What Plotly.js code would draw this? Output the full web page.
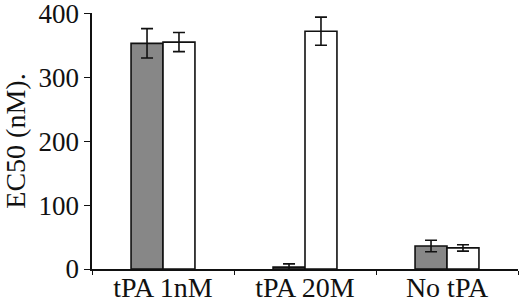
<!DOCTYPE html>
<html>
<head>
<meta charset="utf-8">
<script src="https://cdn.plot.ly/plotly-3.0.1.min.js"></script>
<style>html,body{margin:0;padding:0;background:#fff;}#chart{width:520px;height:304px;}</style>
</head>
<body>
<div id="chart"></div>
<script>
var categories = ["tPA 1nM", "tPA 20M", "No tPA"];
var grayValues = [353, 3, 36];
var grayErrors = [23, 5, 9];
var whiteValues = [355, 372, 33];
var whiteErrors = [15, 22, 5];
var yTicks = [0, 100, 200, 300, 400];

var errStyle = {thickness: 1.6, width: 6, color: "#111"};
var traces = [
  {type: "bar", x: categories, y: grayValues, name: "gray",
   marker: {color: "#878787", line: {color: "#111", width: 1.6}},
   error_y: Object.assign({type: "data", array: grayErrors, visible: true}, errStyle)},
  {type: "bar", x: categories, y: whiteValues, name: "white",
   marker: {color: "#ffffff", line: {color: "#111", width: 1.6}},
   error_y: Object.assign({type: "data", array: whiteErrors, visible: true}, errStyle)}
];
var fontFam = "Liberation Serif";
var layout = {
  width: 520, height: 304,
  margin: {l: 92, r: 2, t: 13, b: 35, pad: 0},
  paper_bgcolor: "#fff", plot_bgcolor: "#fff",
  showlegend: false,
  barmode: "group", bargap: 0.55, bargroupgap: 0,
  font: {family: fontFam, color: "#111", size: 26},
  xaxis: {type: "category", range: [-0.5, 2.5], showline: true, linecolor: "#111", linewidth: 1.6,
          ticks: "outside", tickson: "boundaries", ticklen: 4, tickwidth: 1, tickcolor: "#111",
          ticklabelstandoff: -7, ticklabeloverflow: "allow",
          showgrid: false, zeroline: false, tickfont: {size: 28, family: fontFam}, fixedrange: true},
  yaxis: {range: [0, 400.5], tickvals: yTicks, ticktext: yTicks.map(String), showline: true, linecolor: "#111", linewidth: 1.6,
          ticks: "outside", ticklen: 6, tickwidth: 1, tickcolor: "#111", showgrid: false, zeroline: false,
          ticklabeloverflow: "allow",
          tickfont: {size: 27, family: fontFam},
          title: {text: "EC50 (nM).", font: {size: 28, family: fontFam}, standoff: 6}}
};
Plotly.newPlot("chart", traces, layout, {staticPlot: true, displayModeBar: false});
</script>
</body>
</html>
